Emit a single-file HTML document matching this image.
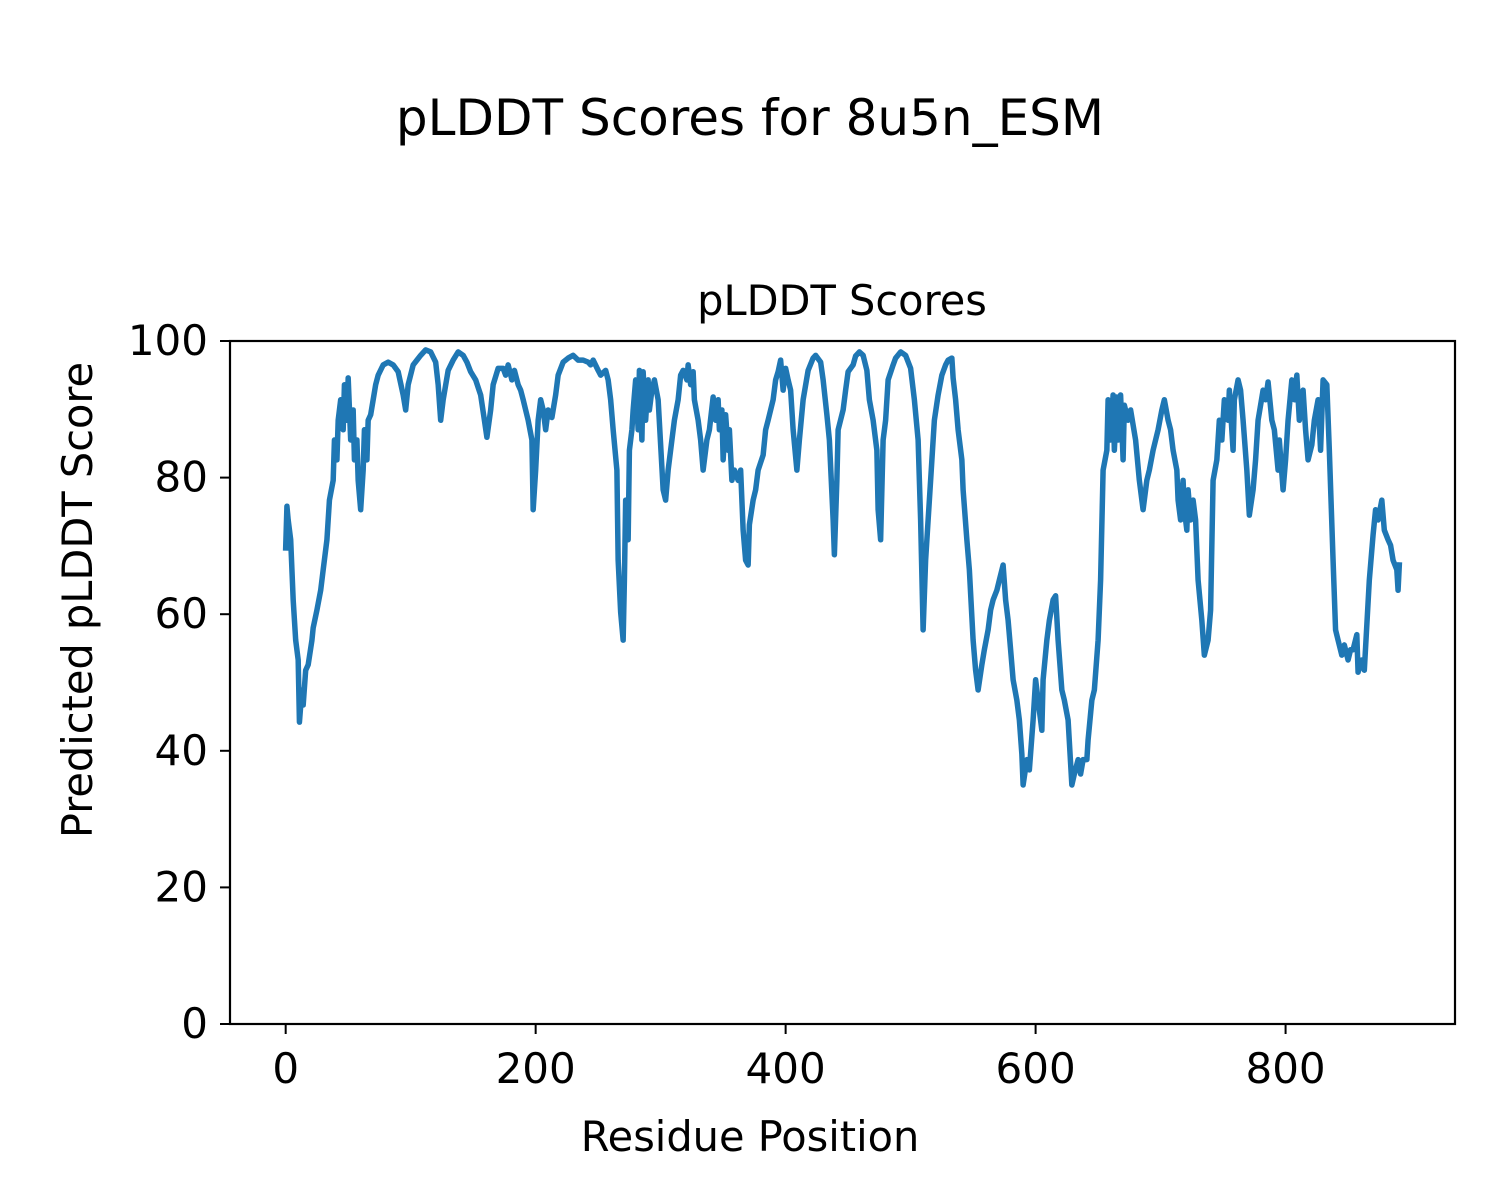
<!DOCTYPE html>
<html><head><meta charset="utf-8"><style>
html,body{margin:0;padding:0;background:#fff;}
svg{display:block;font-family:"DejaVu Sans","Liberation Sans",sans-serif;}
</style></head><body>
<svg id="chart" width="1500" height="1200" viewBox="0 0 1500 1200">
<rect width="1500" height="1200" fill="#fff"/>
<text x="750" y="135" font-size="50" text-anchor="middle">pLDDT Scores for 8u5n_ESM</text>
<text x="842" y="315" font-size="41.5" text-anchor="middle">pLDDT Scores</text>
<g id="plot"></g>
<g id="xt"></g>
<g id="yt"></g>
<rect x="230" y="341" width="1225" height="683" fill="none" stroke="#000" stroke-width="2.2"/>
<text x="750" y="1151" font-size="41.5" text-anchor="middle">Residue Position</text>
<text transform="translate(92,600) rotate(-90)" font-size="41.5" text-anchor="middle">Predicted pLDDT Score</text>
</svg>
<script>
const residues=[0,1,2,4,6,8,10,11,13,14,16,18,21,22,25,28,30,33,35,38,39,41,42,44,46,47,49,50,52,54,55,57,58,60,62,63,65,66,68,70,72,74,78,82,86,90,94,96,98,102,105,108,112,116,120,122,124,126,130,134,138,142,145,148,152,156,159,161,164,166,170,174,176,178,181,183,186,188,190,192,194,197,198,200,202,204,206,208,210,213,216,218,222,226,230,234,238,242,244,246,250,252,256,258,260,262,265,266,268,270,271,272,274,275,277,278,280,282,283,285,286,288,290,291,293,295,298,302,304,306,309,311,314,316,318,321,322,324,326,327,330,332,334,337,339,342,344,346,347,349,350,352,354,355,357,359,362,364,366,368,370,371,374,376,378,382,384,386,390,392,394,396,398,400,402,404,406,409,411,414,418,422,424,428,430,433,435,438,439,441,442,446,448,450,454,456,459,462,465,467,470,473,474,476,478,480,482,486,488,492,496,500,503,506,508,510,512,514,516,519,522,525,528,530,533,534,536,538,541,542,545,547,550,552,554,557,559,562,564,566,569,571,574,576,578,580,582,585,587,589,590,593,595,598,600,602,605,606,609,611,614,616,618,621,623,626,629,631,634,636,638,641,642,645,647,650,652,654,657,658,660,662,663,665,666,668,670,671,674,676,680,683,686,689,691,694,696,698,701,703,706,708,710,713,714,716,718,719,721,722,724,726,728,730,733,735,738,740,742,745,747,749,751,754,755,758,759,762,764,766,769,771,774,776,778,782,784,786,789,791,794,795,798,800,802,805,807,809,811,814,816,818,821,823,826,828,830,833,835,838,840,842,845,847,850,852,854,857,858,861,863,865,867,870,872,874,877,879,882,884,886,889,890,891];
const scores=[69.7,75.8,73.8,70.9,62.1,56.2,53.3,44.2,48.9,46.7,51.8,52.6,56.2,58,60.6,63.5,66.5,70.9,76.7,79.6,85.5,82.6,88.4,91.4,87,93.6,88.4,94.6,85.5,89.9,82.6,85.5,79.6,75.3,81.1,87,82.6,88.4,89.2,91.4,93.6,95,96.5,96.9,96.5,95.5,92.1,89.9,93.6,96.5,97.2,97.9,98.7,98.4,96.9,93.6,88.4,91.4,95.7,97.2,98.4,97.9,96.9,95.5,94.3,92.1,88.4,85.9,89.9,93.6,96,96,95,96.5,94.3,95.7,93.6,92.8,91.4,89.9,88.4,85.5,75.3,81.1,88.4,91.4,89.9,87,89.9,88.8,92.1,95,96.9,97.5,97.9,97.2,97.2,96.9,96.5,97.2,95.7,95,95.7,94.3,91.4,87,81.1,67.9,60.3,56.2,65,76.7,70.9,84,87,89.9,94.3,87,95.7,85.5,95.5,88.4,94.3,89.9,92.8,94.3,91.4,78.2,76.7,81.1,85.5,88.4,91.4,95,95.7,94.3,96.5,93.6,95.5,91.4,88.4,85.5,81.1,85.5,87,91.8,88.4,91.4,87,89.9,82.6,89.2,84,87,79.6,81.1,79.6,81.1,72.3,67.9,67.2,73.1,76.7,78.2,81.1,83.3,87,88.4,91.4,94.3,95.5,97.2,92.8,96,94.3,92.8,87,81.1,85.5,91.4,95.7,97.5,97.9,96.9,94.3,89.2,85.5,73.8,68.7,79.6,87,89.9,92.8,95.5,96.5,97.8,98.4,97.9,95.7,91.4,88.4,84,75.3,70.9,85.5,88.4,94.3,96.5,97.5,98.4,97.9,96,91.4,85.5,73.8,57.7,67.9,73.8,79.6,88.4,92.1,95,96.5,97.2,97.5,94.6,91.4,87,82.6,78.2,70.9,66.5,56.2,51.8,48.9,52.6,54.8,57.7,60.6,62.1,63.5,65,67.2,62.1,59.1,54.8,50.4,47.4,44.5,39.5,35,38.7,37.2,44.5,50.4,47.4,43,50.4,56.2,59.1,62.1,62.7,56.2,48.9,47.4,44.5,35,36.6,38.7,36.6,38.7,38.7,41.6,47.4,48.9,56.2,65,81.1,84,91.4,85.5,92.1,84,91.8,85.5,92.1,82.6,90.6,88.4,89.9,85.5,79.6,75.3,79.6,81.1,84,85.5,87,89.9,91.4,88.4,87,84,81.1,76.7,73.8,79.6,75.3,72.3,78.2,73.8,76.7,73.8,65,59.1,54,56.2,60.6,79.6,82.6,88.4,85.5,91.4,88.4,92.8,84,91.4,94.3,92.8,88.4,81.1,74.5,78.2,82.6,88.4,92.8,91.4,94,88.4,87,81.1,85.5,78.2,82.6,88.4,94.3,91.4,95,88.4,92.8,87,82.6,84.8,88.4,91.4,84,94.3,93.6,84,67.9,57.7,56.2,54,55.5,53.3,54.8,54.8,57,51.5,53.3,51.8,58.4,65,71.6,75.3,73.8,76.7,72.3,70.9,70.1,67.9,66.5,63.5,67.2];
const xTicks=[0,200,400,600,800];
const yTicks=[0,20,40,60,80,100];
const NS='http://www.w3.org/2000/svg';
const X0=230,X1=1455,Y0=1024,Y1=341;
const xMin=-44.55,xMax=935.55,yMin=0,yMax=100;
function sx(v){return X0+(v-xMin)/(xMax-xMin)*(X1-X0);}
function sy(v){return Y0-(v-yMin)/(yMax-yMin)*(Y0-Y1);}
const plot=document.getElementById('plot');
let d='';
for(let i=0;i<residues.length;i++){d+=(i?'L':'M')+sx(residues[i]).toFixed(2)+' '+sy(scores[i]).toFixed(2);}
const line=document.createElementNS(NS,'path');
line.setAttribute('d',d);line.setAttribute('fill','none');line.setAttribute('stroke','#1f77b4');
line.setAttribute('stroke-width','5.5');line.setAttribute('stroke-linejoin','round');line.setAttribute('stroke-linecap','square');


plot.appendChild(line);
const xt=document.getElementById('xt');
xTicks.forEach(t=>{
  const x=sx(t);
  const l=document.createElementNS(NS,'line');
  l.setAttribute('x1',x);l.setAttribute('x2',x);l.setAttribute('y1',Y0);l.setAttribute('y2',Y0+10);
  l.setAttribute('stroke','#000');l.setAttribute('stroke-width','2');
  
  
  xt.appendChild(l);
  const tx=document.createElementNS(NS,'text');
  tx.setAttribute('x',x);tx.setAttribute('y',Y0+59);tx.setAttribute('font-size','42');tx.setAttribute('text-anchor','middle');
  tx.textContent=t;
  
  
  xt.appendChild(tx);
});
const yt=document.getElementById('yt');
yTicks.forEach(t=>{
  const y=sy(t);
  const l=document.createElementNS(NS,'line');
  l.setAttribute('x1',X0-10);l.setAttribute('x2',X0);l.setAttribute('y1',y);l.setAttribute('y2',y);
  l.setAttribute('stroke','#000');l.setAttribute('stroke-width','2');
  
  
  yt.appendChild(l);
  const tx=document.createElementNS(NS,'text');
  tx.setAttribute('x',X0-22);tx.setAttribute('y',y+14);tx.setAttribute('font-size','42');tx.setAttribute('text-anchor','end');
  tx.textContent=t;
  
  
  yt.appendChild(tx);
});
</script>
</body></html>
